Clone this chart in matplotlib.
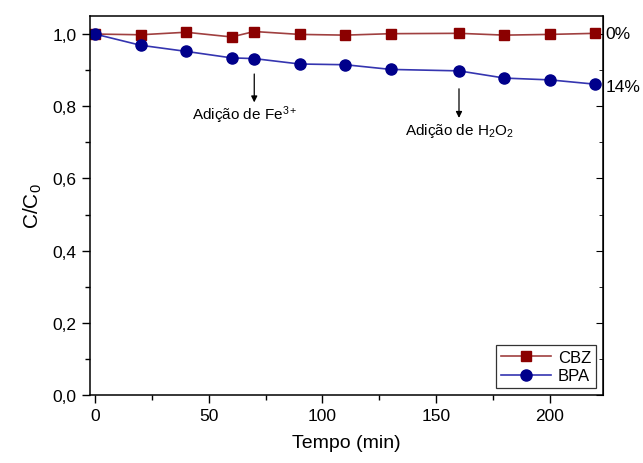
import numpy as np
import matplotlib
matplotlib.use("Agg")
import matplotlib.pyplot as plt
from matplotlib.ticker import MultipleLocator, FuncFormatter

plt.rcParams['font.family'] = ['Liberation Sans', 'DejaVu Sans']
plt.rcParams['mathtext.fontset'] = 'custom'
plt.rcParams['mathtext.rm'] = 'Liberation Sans'
plt.rcParams['mathtext.it'] = 'Liberation Sans'

# sampling times (min)
tempo = [0, 20, 40, 60, 70, 90, 110, 130, 160, 180, 200, 220]
# C/C0
cbz = [1.000, 0.998, 1.005, 0.992, 1.007, 0.999, 0.997, 1.001, 1.002, 0.997, 0.999, 1.002]
bpa = [1.000, 0.969, 0.952, 0.934, 0.932, 0.917, 0.915, 0.902, 0.898, 0.878, 0.873, 0.861]
series_labels = ['CBZ', 'BPA']
removal_labels = ['0%', '14%']

fig = plt.figure(figsize=(6.43, 4.64), dpi=100)
ax = fig.add_axes([90 / 643, 1 - 396 / 464, 513 / 643, 379 / 464])

ax.plot(tempo, cbz, color='#a04040', lw=1.2, marker='s', ms=6.5,
        mfc='#8b0000', mec='#8b0000', label=series_labels[0])
ax.plot(tempo, bpa, color='#3535b0', lw=1.2, marker='o', ms=8,
        mfc='#00008b', mec='#00008b', label=series_labels[1])

ax.set_xlim(-2.2, 223.3)
ax.set_ylim(0, 1.05)
ax.xaxis.set_major_locator(MultipleLocator(50))
ax.xaxis.set_minor_locator(MultipleLocator(25))
ax.yaxis.set_major_locator(MultipleLocator(0.2))
ax.yaxis.set_minor_locator(MultipleLocator(0.1))
ax.yaxis.set_major_formatter(FuncFormatter(lambda v, p: f'{v:.1f}'.replace('.', ',')))

ax.tick_params(which='both', direction='out', labelsize=12.5, width=1, top=False, right=False)
ax.tick_params(which='major', length=6)
ax.tick_params(which='minor', length=3.5)
for s in ax.spines.values():
    s.set_linewidth(1.1)

# mirror ticks on the right side, pointing in
sec = ax.secondary_yaxis('right')
sec.yaxis.set_major_locator(MultipleLocator(0.2))
sec.yaxis.set_minor_locator(MultipleLocator(0.1))
sec.tick_params(which='both', direction='in', labelright=False)
sec.tick_params(which='major', length=5)
sec.tick_params(which='minor', length=3)

ax.set_xlabel('Tempo (min)', fontsize=14, labelpad=8)
ax.set_ylabel('C/C$_0$', fontsize=15, labelpad=6)

# additions
ax.annotate('', xy=(70, 0.803), xytext=(70, 0.897),
            arrowprops=dict(arrowstyle='-|>', color='black', lw=0.9, mutation_scale=9))
ax.text(66, 0.765, 'Adição de Fe$^{3+}$', fontsize=11, ha='center', va='baseline')
ax.annotate('', xy=(160, 0.76), xytext=(160, 0.856),
            arrowprops=dict(arrowstyle='-|>', color='black', lw=0.9, mutation_scale=9))
ax.text(160, 0.722, 'Adição de H$_2$O$_2$', fontsize=11, ha='center', va='baseline')

# removal percentages outside the right spine
ax.text(1.005, cbz[-1], removal_labels[0], transform=ax.get_yaxis_transform(),
        fontsize=12.5, va='center', ha='left')
ax.text(1.005, bpa[-1] - 0.005, removal_labels[1], transform=ax.get_yaxis_transform(),
        fontsize=12.5, va='center', ha='left')

leg = ax.legend(loc='lower right', fontsize=12, frameon=True, fancybox=False,
                edgecolor='black', handlelength=3.0, borderpad=0.3,
                labelspacing=0.2, handletextpad=0.4, borderaxespad=0.4)
leg.get_frame().set_linewidth(0.9)

fig.savefig('out.png', dpi=100)
